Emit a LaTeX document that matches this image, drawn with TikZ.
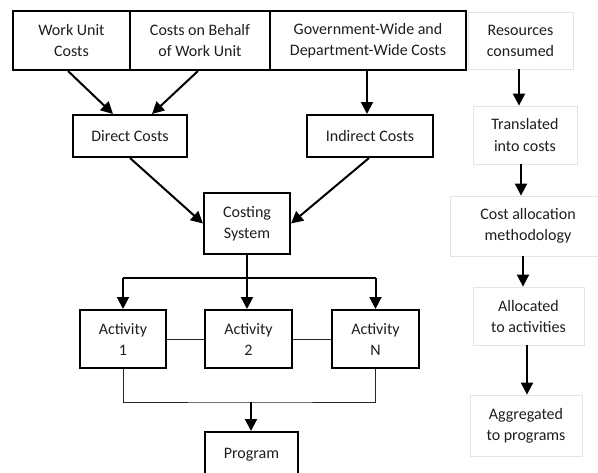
\documentclass[tikz,border=0pt]{standalone}
\usepackage{fontspec}
\setmainfont{Carlito}
\usetikzlibrary{arrows.meta,calc}
\definecolor{txt}{HTML}{1E1E1E}
\definecolor{lite}{HTML}{E4E4E4}
\tikzset{
  every node/.style={font=\fontsize{16}{21}\selectfont, text=txt, align=center, inner sep=0pt},
  bbox/.style={draw=black, line width=2pt, fill=white},
  lbox/.style={draw=lite, line width=0.8pt, fill=white},
  arr/.style={line width=2pt, -{Triangle[length=12pt,width=12pt]}},
  thin/.style={line width=0.9pt, draw=black!85},
}
\begin{document}
\begin{tikzpicture}[x=1pt,y=-1pt]
\useasboundingbox (0,0) rectangle (598,472);
\clip (0,0) rectangle (598,472);
\fill[white] (0,0) rectangle (598,472);
% left part
\node[bbox, minimum width=117pt, minimum height=59pt] (wuc) at (71.5,40.5) {Work Unit\\Costs};
\node[bbox, minimum width=140pt, minimum height=59pt] (cob) at (200,40.5) {Costs on Behalf\\of Work Unit};
\node[bbox, minimum width=196pt, minimum height=59pt] (gov) at (368,40.5) {Government-Wide and\\Department-Wide Costs};
\node[bbox, minimum width=114pt, minimum height=42pt] (dc) at (130,136) {Direct Costs};
\node[bbox, minimum width=126pt, minimum height=42pt] (ic) at (370,136) {Indirect Costs};
\node[bbox, minimum width=86pt, minimum height=61pt] (cs) at (247,223.5) {Costing\\System};
\node[bbox, minimum width=86pt, minimum height=58pt] (a1) at (123,339) {Activity\\1};
\node[bbox, minimum width=87pt, minimum height=58pt] (a2) at (248.5,339) {Activity\\2};
\node[bbox, minimum width=87pt, minimum height=58pt] (aN) at (375.5,339) {Activity\\N};
\node[bbox, minimum width=93pt, minimum height=46pt] (prog) at (251.5,455) {Program};
% right column
\node[lbox, minimum width=105pt, minimum height=57pt] (res) at (520.5,40.5) {Resources\\consumed};
\node[lbox, minimum width=104pt, minimum height=58pt] (tr) at (525,135) {Translated\\into costs};
\node[lbox, minimum width=156pt, minimum height=60pt] (ca) at (528,226) {Cost allocation\\methodology};
\node[lbox, minimum width=111pt, minimum height=58pt] (al) at (528.5,316) {Allocated\\to activities};
\node[lbox, minimum width=112pt, minimum height=61pt] (ag) at (526,425.5) {Aggregated\\to programs};
% connectors
\draw[arr] ($(wuc.south)+(-3.5,0)$) -- ($(dc.north)+(-17,0)$);
\draw[arr] ($(cob.south)+(-2,0)$) -- ($(dc.north)+(22,0)$);
\draw[arr] ($(gov.south)+(-1,0)$) -- ($(ic.north)+(-3,0)$);
\draw[arr] (dc.south) -- (cs.west);
\draw[arr] ($(ic.south)+(-1,0)$) -- (cs.east);
\coordinate (busT) at (248,278);
\coordinate (busB) at (251,402);
\draw[arr] (cs.south) -- (cs.south |- a2.north);
\draw[line width=1.3pt] (busT -| a1.north) -- (busT -| aN.north);
\draw[arr] (busT -| a1.north) -- (a1.north);
\draw[arr] (busT -| aN.north) -- (aN.north);
\draw[thin] (a1.east) -- (a2.west);
\draw[thin] (a2.east) -- (aN.west);
\draw[thin] (a1.south) |- (busB) -| (aN.south);
\draw[arr] (busB) -- (busB |- prog.north);
\draw[arr] ($(res.south)+(-1.5,0)$) -- ($(tr.north)+(-6,0)$);
\draw[arr] ($(tr.south)+(-4,0)$) -- ($(ca.north)+(-7,0)$);
\draw[arr] ($(ca.south)+(-5,0)$) -- ($(al.north)+(-5.5,0)$);
\draw[arr] ($(al.south)+(-1.5,0)$) -- ($(ag.north)+(1,0)$);
\end{tikzpicture}
\end{document}
